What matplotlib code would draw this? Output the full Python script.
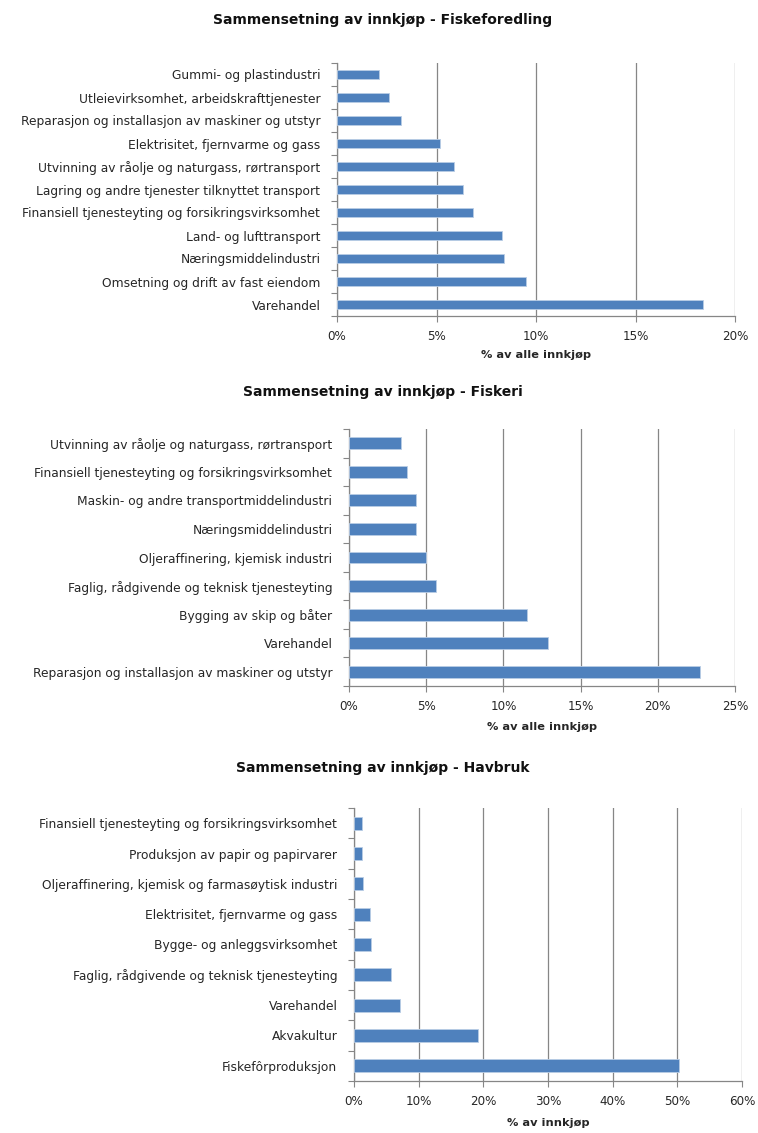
import matplotlib
matplotlib.use("Agg")
import matplotlib.pyplot as plt
import numpy as np
from matplotlib.ticker import FixedLocator, PercentFormatter

plt.rcParams['font.family'] = ['DejaVu Sans']

# Data (top-to-bottom order as shown)
titles = [
    "Sammensetning av innkjøp - Fiskeforedling",
    "Sammensetning av innkjøp - Fiskeri",
    "Sammensetning av innkjøp - Havbruk",
]
xlabels = ["% av alle innkjøp", "% av alle innkjøp", "% av innkjøp"]

cats1 = [
    "Gummi- og plastindustri",
    "Utleievirksomhet, arbeidskrafttjenester",
    "Reparasjon og installasjon av maskiner og utstyr",
    "Elektrisitet, fjernvarme og gass",
    "Utvinning av råolje og naturgass, rørtransport",
    "Lagring og andre tjenester tilknyttet transport",
    "Finansiell tjenesteyting og forsikringsvirksomhet",
    "Land- og lufttransport",
    "Næringsmiddelindustri",
    "Omsetning og drift av fast eiendom",
    "Varehandel",
]
vals1 = [2.13, 2.62, 3.20, 5.18, 5.90, 6.34, 6.81, 8.30, 8.37, 9.51, 18.37]
ticks1 = [0, 5, 10, 15, 20]

cats2 = [
    "Utvinning av råolje og naturgass, rørtransport",
    "Finansiell tjenesteyting og forsikringsvirksomhet",
    "Maskin- og andre transportmiddelindustri",
    "Næringsmiddelindustri",
    "Oljeraffinering, kjemisk industri",
    "Faglig, rådgivende og teknisk tjenesteyting",
    "Bygging av skip og båter",
    "Varehandel",
    "Reparasjon og installasjon av maskiner og utstyr",
]
vals2 = [3.39, 3.78, 4.34, 4.34, 4.99, 5.61, 11.51, 12.87, 22.75]
ticks2 = [0, 5, 10, 15, 20, 25]

cats3 = [
    "Finansiell tjenesteyting og forsikringsvirksomhet",
    "Produksjon av papir og papirvarer",
    "Oljeraffinering, kjemisk og farmasøytisk industri",
    "Elektrisitet, fjernvarme og gass",
    "Bygge- og anleggsvirksomhet",
    "Faglig, rådgivende og teknisk tjenesteyting",
    "Varehandel",
    "Akvakultur",
    "Fiskefôrproduksjon",
]
vals3 = [1.24, 1.24, 1.44, 2.42, 2.58, 5.72, 7.06, 19.18, 50.26]
ticks3 = [0, 10, 20, 30, 40, 50, 60]

W, H = 758, 1133
fig = plt.figure(figsize=(W / 100, H / 100), dpi=100)

def px_axes(left, right, top, bottom):
    return fig.add_axes([left / W, 1 - bottom / H, (right - left) / W, (bottom - top) / H])

layouts = [
    dict(box=(337, 735, 63, 316), title_y=20, xlabel_y=355),
    dict(box=(349, 735, 429, 686), title_y=392, xlabel_y=727),
    dict(box=(354, 742, 808, 1081), title_y=768, xlabel_y=1123),
]

datasets = [(cats1, vals1, ticks1), (cats2, vals2, ticks2), (cats3, vals3, ticks3)]
bar_color = "#4F81BD"
grid_color = "#868686"
text_color = "#262626"

for (cats, vals, ticks), lay, title, xl in zip(datasets, layouts, titles, xlabels):
    l, r, t, b = lay["box"]
    ax = px_axes(l, r, t, b)
    n = len(cats)
    y = np.arange(n)
    ax.barh(y, vals, height=0.42, color=bar_color, edgecolor="#B9CDE5", linewidth=0.6, zorder=3)
    ax.set_ylim(n - 0.5, -0.5)
    ax.set_xlim(ticks[0], ticks[-1])
    ax.set_yticks(y)
    ax.set_yticklabels(cats, fontsize=8.8, color=text_color)
    ax.yaxis.set_minor_locator(FixedLocator(np.arange(n + 1) - 0.5))
    ax.tick_params(axis='y', which='major', length=0, pad=12)
    ax.tick_params(axis='y', which='minor', length=4, color=grid_color, width=0.8)
    ax.set_xticks(ticks)
    ax.xaxis.set_major_formatter(PercentFormatter(decimals=0))
    ax.tick_params(axis='x', length=4, color=grid_color, width=0.8, labelsize=8.6,
                   labelcolor=text_color, pad=6)
    ax.grid(axis='x', color=grid_color, linewidth=0.9, zorder=0)
    for s in ["top", "right"]:
        ax.spines[s].set_visible(False)
    for s in ["left", "bottom"]:
        ax.spines[s].set_color(grid_color)
        ax.spines[s].set_linewidth(0.9)
    fig.text(383 / W, 1 - lay["title_y"] / H, title, ha="center", va="center",
             fontsize=10, fontweight="bold", color="#111111")
    fig.text((l + r) / 2 / W, 1 - lay["xlabel_y"] / H, xl, ha="center", va="center",
             fontsize=8.2, fontweight="bold", color=text_color)

fig.savefig("out.png", dpi=100, facecolor="white")
